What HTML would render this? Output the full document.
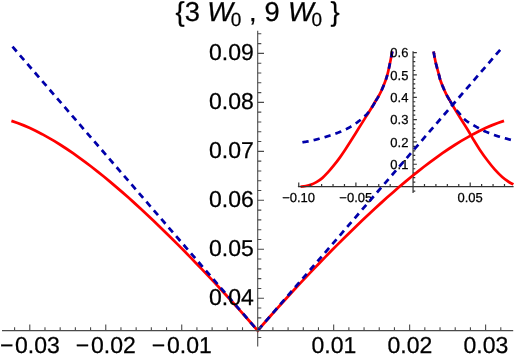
<!DOCTYPE html>
<html><head><meta charset="utf-8"><title>plot</title>
<style>
html,body{margin:0;padding:0;background:#fff;}
body{width:515px;height:359px;overflow:hidden;font-family:"Liberation Sans",sans-serif;}
svg{display:block;will-change:transform;}
text{font-family:"Liberation Sans",sans-serif;fill:#000;stroke:#000;stroke-width:0.25px;text-rendering:geometricPrecision;}
</style></head><body>
<svg width="515" height="359" viewBox="0 0 515 359">
<rect width="515" height="359" fill="#fff"/>
<g fill="none" stroke-width="2.7">
<path d="M300.60 186.70 C300.92 186.67 301.68 186.62 302.50 186.50 C303.32 186.38 304.17 186.27 305.50 186.00 C306.83 185.73 308.68 185.53 310.50 184.90 C312.32 184.27 314.45 183.33 316.40 182.20 C318.35 181.07 320.25 179.77 322.20 178.10 C324.15 176.43 326.13 174.35 328.10 172.20 C330.07 170.05 332.05 167.63 334.00 165.20 C335.95 162.77 337.97 160.13 339.80 157.60 C341.63 155.07 343.20 152.72 345.00 150.00 C346.80 147.28 348.37 144.83 350.60 141.30 C352.83 137.77 355.80 132.95 358.40 128.80 C361.00 124.65 364.00 119.90 366.20 116.40 C368.40 112.90 370.00 110.40 371.60 107.80 C373.20 105.20 374.25 103.47 375.80 100.80 C377.35 98.13 379.00 96.03 380.90 91.80 C382.80 87.57 385.30 82.13 387.20 75.40 C389.10 68.67 391.45 55.40 392.30 51.40" stroke="#ff0000"/>
<path d="M433.60 51.50 C433.93 53.27 434.75 58.38 435.60 62.10 C436.45 65.82 437.92 70.82 438.70 73.80 C439.48 76.78 439.58 77.80 440.30 80.00 C441.02 82.20 442.02 84.65 443.00 87.00 C443.98 89.35 445.08 91.88 446.20 94.10 C447.32 96.32 448.47 98.15 449.70 100.30 C450.93 102.45 451.83 104.05 453.60 107.00 C455.37 109.95 457.90 114.13 460.30 118.00 C462.70 121.87 465.77 126.53 468.00 130.20 C470.23 133.87 471.77 136.80 473.70 140.00 C475.63 143.20 477.33 146.02 479.60 149.40 C481.87 152.78 484.75 156.92 487.30 160.30 C489.85 163.68 492.42 166.92 494.90 169.70 C497.38 172.48 499.87 174.95 502.20 177.00 C504.53 179.05 507.03 180.77 508.90 182.00 C510.77 183.23 512.65 184.00 513.40 184.40" stroke="#ff0000"/>
<path d="M302.40 142.30 L302.51 142.28 L302.62 142.26 L302.74 142.24 L302.87 142.22 L303.00 142.20 L303.14 142.18 L303.29 142.16 L303.44 142.14 L303.60 142.11 L303.77 142.09 L303.94 142.06 L304.12 142.03 L304.30 142.01 L304.49 141.98 L304.69 141.95 L304.88 141.92 L305.09 141.89 L305.29 141.85 L305.50 141.82 L305.72 141.79 L305.94 141.75 L306.16 141.72 L306.38 141.68 L306.61 141.64 L306.84 141.60 L307.08 141.56 L307.31 141.52 L307.55 141.48 L307.79 141.44 L308.03 141.40 L308.28 141.35 L308.52 141.30 L308.77 141.26 L309.01 141.21 L309.26 141.16 L309.51 141.11 L309.76 141.06 L310.00 141.01 L310.25 140.95 L310.50 140.90 L310.75 140.84 L311.01 140.79 L311.26 140.73 L311.53 140.67 L311.80 140.60 L312.07 140.54 L312.35 140.47 L312.63 140.41 L312.91 140.34 L313.20 140.27 L313.49 140.20 L313.78 140.13 L314.08 140.05 L314.37 139.98 L314.67 139.91 L314.97 139.83 L315.28 139.75 L315.58 139.68 L315.89 139.60 L316.19 139.52 L316.50 139.44 L316.81 139.36 L317.12 139.28 L317.43 139.20 L317.73 139.12 L318.04 139.04 L318.35 138.95 L318.66 138.87 L318.96 138.79 L319.27 138.71 L319.57 138.63 L319.87 138.54 L320.17 138.46 L320.47 138.38 L320.77 138.30 L321.06 138.22 L321.35 138.14 L321.64 138.06 L321.92 137.98 L322.20 137.90 L322.48 137.82 L322.75 137.74 L323.03 137.66 L323.31 137.59 L323.58 137.51 L323.85 137.43 L324.12 137.35 L324.39 137.27 L324.66 137.19 L324.93 137.11 L325.20 137.04 L325.46 136.96 L325.73 136.88 L326.00 136.80 L326.26 136.72 L326.52 136.64 L326.79 136.56 L327.05 136.48 L327.31 136.40 L327.58 136.32 L327.84 136.24 L328.10 136.16 L328.36 136.07 L328.62 135.99 L328.88 135.91 L329.14 135.83 L329.40 135.74 L329.66 135.66 L329.92 135.57 L330.18 135.49 L330.44 135.40 L330.70 135.32 L330.96 135.23 L331.23 135.14 L331.49 135.05 L331.75 134.96 L332.01 134.87 L332.27 134.78 L332.54 134.69 L332.80 134.60 L333.06 134.51 L333.33 134.41 L333.60 134.32 L333.87 134.22 L334.14 134.13 L334.41 134.03 L334.68 133.93 L334.95 133.83 L335.22 133.73 L335.49 133.63 L335.77 133.53 L336.04 133.43 L336.31 133.33 L336.59 133.22 L336.86 133.12 L337.13 133.02 L337.40 132.91 L337.68 132.81 L337.95 132.70 L338.22 132.60 L338.49 132.49 L338.76 132.39 L339.03 132.28 L339.29 132.18 L339.56 132.07 L339.82 131.97 L340.08 131.86 L340.34 131.76 L340.60 131.65 L340.86 131.54 L341.12 131.44 L341.37 131.33 L341.62 131.23 L341.87 131.12 L342.11 131.02 L342.36 130.91 L342.60 130.81 L342.83 130.71 L343.07 130.60 L343.30 130.50 L343.53 130.40 L343.75 130.30 L343.98 130.19 L344.20 130.09 L344.42 129.99 L344.63 129.89 L344.85 129.79 L345.06 129.69 L345.27 129.59 L345.47 129.49 L345.68 129.39 L345.88 129.30 L346.08 129.20 L346.29 129.10 L346.48 129.00 L346.68 128.90 L346.88 128.80 L347.07 128.70 L347.26 128.60 L347.46 128.50 L347.65 128.40 L347.84 128.30 L348.03 128.20 L348.22 128.10 L348.40 128.00 L348.59 127.89 L348.78 127.79 L348.96 127.69 L349.15 127.59 L349.34 127.48 L349.52 127.38 L349.71 127.27 L349.89 127.17 L350.08 127.06 L350.26 126.95 L350.45 126.84 L350.64 126.73 L350.82 126.62 L351.01 126.51 L351.20 126.40 L351.39 126.29 L351.58 126.18 L351.76 126.06 L351.95 125.95 L352.13 125.84 L352.31 125.73 L352.49 125.61 L352.68 125.50 L352.86 125.39 L353.04 125.27 L353.21 125.16 L353.39 125.05 L353.57 124.93 L353.75 124.82 L353.92 124.70 L354.10 124.58 L354.28 124.47 L354.45 124.35 L354.63 124.23 L354.81 124.11 L354.98 123.99 L355.16 123.87 L355.33 123.75 L355.51 123.63 L355.69 123.50 L355.86 123.38 L356.04 123.25 L356.22 123.13 L356.40 123.00 L356.57 122.87 L356.75 122.74 L356.93 122.61 L357.11 122.47 L357.29 122.34 L357.48 122.20 L357.66 122.07 L357.84 121.93 L358.03 121.79 L358.21 121.64 L358.40 121.50 L358.59 121.35 L358.78 121.21 L358.97 121.06 L359.17 120.90 L359.36 120.75 L359.56 120.60 L359.76 120.44 L359.96 120.28 L360.16 120.12 L360.36 119.96 L360.57 119.80 L360.77 119.63 L360.98 119.47 L361.18 119.30 L361.39 119.13 L361.59 118.96 L361.80 118.79 L362.00 118.62 L362.21 118.45 L362.41 118.28 L362.62 118.11 L362.82 117.94 L363.02 117.76 L363.22 117.59 L363.42 117.41 L363.62 117.24 L363.82 117.06 L364.02 116.89 L364.21 116.71 L364.40 116.54 L364.60 116.36 L364.78 116.19 L364.97 116.01 L365.15 115.84 L365.34 115.66 L365.51 115.49 L365.69 115.32 L365.86 115.14 L366.03 114.97 L366.20 114.80 L366.36 114.63 L366.53 114.46 L366.69 114.28 L366.84 114.11 L367.00 113.94 L367.15 113.77 L367.30 113.59 L367.45 113.42 L367.60 113.25 L367.75 113.07 L367.89 112.90 L368.03 112.72 L368.18 112.55 L368.32 112.37 L368.45 112.20 L368.59 112.02 L368.73 111.85 L368.86 111.67 L368.99 111.49 L369.12 111.32 L369.26 111.14 L369.39 110.97 L369.51 110.79 L369.64 110.61 L369.77 110.44 L369.89 110.26 L370.02 110.09 L370.14 109.91 L370.27 109.73 L370.39 109.56 L370.51 109.38 L370.64 109.20 L370.76 109.03 L370.88 108.85 L371.00 108.68 L371.12 108.50 L371.24 108.33 L371.36 108.15 L371.48 107.98 L371.60 107.80 L371.72 107.63 L371.84 107.45 L371.95 107.28 L372.06 107.11 L372.18 106.94 L372.29 106.77 L372.40 106.60 L372.50 106.43 L372.61 106.26 L372.71 106.10 L372.82 105.93 L372.92 105.76 L373.02 105.60 L373.12 105.43 L373.22 105.26 L373.32 105.10 L373.42 104.93 L373.52 104.76 L373.62 104.59 L373.72 104.42 L373.82 104.26 L373.92 104.09 L374.01 103.92 L374.11 103.74 L374.21 103.57 L374.31 103.40 L374.41 103.22 L374.51 103.05 L374.61 102.87 L374.71 102.69 L374.82 102.51 L374.92 102.33 L375.03 102.14 L375.13 101.96 L375.24 101.77" stroke="#0000aa" stroke-dasharray="6.3 5.08"/>
<path d="M375.57 101.20 L375.68 101.00 L375.80 100.80 L375.92 100.60 L376.03 100.40 L376.15 100.21 L376.27 100.01 L376.39 99.82 L376.50 99.63 L376.62 99.44 L376.74 99.25 L376.86 99.06 L376.98 98.86 L377.10 98.67 L377.23 98.48 L377.35 98.29 L377.47 98.09 L377.59 97.90 L377.72 97.70 L377.84 97.50 L377.97 97.30 L378.09 97.09 L378.22 96.89 L378.35 96.68 L378.47 96.47 L378.60 96.25 L378.73 96.03 L378.86 95.80 L378.99 95.58 L379.12 95.34 L379.25 95.11 L379.39 94.86 L379.52 94.62 L379.65 94.36 L379.79 94.11 L379.92 93.84 L380.06 93.57 L380.20 93.29 L380.34 93.01 L380.48 92.72 L380.62 92.42 L380.76 92.11 L380.90 91.80 L381.04 91.48 L381.19 91.16 L381.34 90.83 L381.49 90.49 L381.64 90.16 L381.79 89.81 L381.95 89.47 L382.10 89.12 L382.26 88.76 L382.42 88.40 L382.58 88.03 L382.74 87.66 L382.90 87.29 L383.06 86.91 L383.23 86.53 L383.39 86.14 L383.56 85.74 L383.72 85.35 L383.89 84.94 L384.05 84.54 L384.21 84.13 L384.38 83.71 L384.54 83.29 L384.71 82.86 L384.87 82.43 L385.04 82.00 L385.20 81.56 L385.36 81.11 L385.52 80.66 L385.68 80.21 L385.84 79.75 L386.00 79.28 L386.15 78.82 L386.31 78.34 L386.46 77.86 L386.61 77.38 L386.76 76.89 L386.91 76.40 L387.06 75.90 L387.20 75.40 L387.34 74.88 L387.49 74.34 L387.63 73.78 L387.78 73.20 L387.93 72.60 L388.08 71.98 L388.23 71.35 L388.38 70.70 L388.53 70.04 L388.68 69.37 L388.83 68.69 L388.98 68.00 L389.13 67.31 L389.28 66.61 L389.42 65.90 L389.57 65.20 L389.72 64.49 L389.86 63.78 L390.00 63.08 L390.14 62.37 L390.28 61.68 L390.42 60.99 L390.55 60.31 L390.68 59.64 L390.81 58.98 L390.94 58.33 L391.06 57.69 L391.18 57.08 L391.30 56.47 L391.41 55.89 L391.52 55.33 L391.63 54.79 L391.73 54.27 L391.82 53.77 L391.91 53.30 L392.00 52.86 L392.08 52.45 L392.16 52.07 L392.23 51.72 L392.30 51.40" stroke="#0000aa" stroke-dasharray="6.09 6.15 6.21 5.34 5.23 6.17 5.82 5.71 30.00 30"/>
<path d="M433.60 51.50 L433.63 51.64 L433.65 51.79 L433.68 51.95 L433.71 52.13 L433.75 52.31 L433.78 52.51 L433.82 52.71 L433.85 52.92 L433.89 53.15 L433.93 53.38 L433.98 53.62 L434.02 53.87 L434.06 54.12 L434.11 54.38 L434.16 54.65 L434.20 54.92 L434.25 55.20 L434.30 55.49 L434.35 55.78 L434.41 56.07 L434.46 56.37 L434.51 56.66 L434.57 56.97 L434.62 57.27 L434.68 57.58 L434.74 57.89 L434.80 58.20 L434.86 58.51 L434.92 58.81 L434.98 59.12 L435.04 59.43 L435.10 59.74 L435.16 60.05 L435.22 60.35 L435.28 60.65 L435.35 60.95 L435.41 61.24 L435.47 61.53 L435.54 61.82 L435.60 62.10 L435.66 62.38 L435.73 62.67 L435.80 62.96 L435.87 63.25 L435.95 63.55 L436.02 63.85 L436.10 64.15 L436.17 64.46 L436.25 64.77 L436.33 65.08 L436.41 65.39 L436.50 65.70 L436.58 66.02 L436.66 66.33 L436.75 66.65 L436.83 66.96 L436.92 67.28 L437.00 67.60 L437.09 67.91 L437.18 68.22 L437.26 68.54 L437.35 68.85 L437.43 69.16 L437.52 69.46 L437.60 69.77 L437.68 70.07 L437.76 70.37 L437.85 70.66 L437.93 70.95 L438.00 71.24 L438.08 71.52 L438.16 71.79 L438.23 72.07 L438.31 72.33 L438.38 72.59 L438.45 72.85 L438.51 73.10 L438.58 73.34 L438.64 73.57 L438.70 73.80 L438.76 74.02 L438.81 74.23 L438.87 74.44 L438.92 74.64 L438.96 74.83 L439.01 75.02 L439.06 75.20 L439.10 75.38 L439.14 75.55 L439.18 75.72 L439.22 75.88 L439.26 76.04 L439.29 76.19 L439.33 76.34 L439.36 76.49 L439.40 76.64 L439.43 76.78 L439.46 76.92 L439.49 77.06 L439.53 77.19 L439.56 77.33 L439.59 77.46 L439.62 77.59 L439.65 77.73 L439.69 77.86 L439.72 77.99 L439.75 78.12 L439.79 78.25 L439.82 78.39 L439.86 78.52 L439.90 78.66 L439.93 78.80 L439.97 78.94 L440.01 79.08 L440.06 79.22 L440.10 79.37 L440.15 79.52 L440.20 79.68 L440.25 79.84 L440.30 80.00 L440.35 80.17 L440.41 80.33 L440.47 80.50 L440.52 80.67 L440.58 80.84 L440.64 81.01 L440.70 81.18 L440.76 81.35 L440.82 81.52 L440.89 81.69 L440.95 81.86 L441.01 82.04 L441.08 82.21 L441.14 82.39 L441.21 82.56 L441.28 82.74 L441.34 82.91 L441.41 83.09 L441.48 83.27 L441.55 83.44 L441.62 83.62 L441.69 83.80 L441.76 83.98 L441.83 84.15 L441.90 84.33 L441.97 84.51 L442.05 84.69 L442.12 84.87 L442.19 85.05 L442.26 85.22 L442.34 85.40 L442.41 85.58 L442.48 85.76 L442.56 85.94 L442.63 86.11 L442.70 86.29 L442.78 86.47 L442.85 86.65 L442.93 86.82 L443.00 87.00 L443.07 87.18 L443.15 87.35 L443.22 87.53 L443.30 87.71 L443.37 87.89 L443.45 88.07 L443.53 88.25 L443.60 88.43 L443.68 88.61 L443.76 88.79 L443.84 88.97 L443.91 89.15 L443.99 89.33 L444.07 89.51 L444.15 89.69 L444.23 89.88 L444.31 90.06 L444.39 90.24 L444.47 90.42 L444.55 90.60 L444.63 90.78 L444.71 90.96 L444.79 91.14 L444.87 91.32 L444.96 91.50 L445.04 91.68 L445.12 91.86 L445.20 92.03 L445.28 92.21 L445.37 92.39 L445.45 92.56 L445.53 92.74 L445.62 92.91 L445.70 93.08 L445.78 93.25 L445.87 93.43 L445.95 93.60 L446.03 93.77 L446.12 93.93 L446.20 94.10 L446.28 94.27 L446.37 94.43 L446.45 94.59 L446.54 94.76 L446.62 94.92 L446.70 95.08 L446.79 95.24 L446.87 95.40 L446.96 95.55 L447.04 95.71 L447.13 95.87 L447.22 96.02 L447.30 96.18 L447.39 96.33 L447.47 96.49 L447.56 96.64 L447.65 96.79 L447.73 96.95 L447.82 97.10 L447.91 97.25 L447.99 97.40 L448.08 97.55 L448.17 97.70 L448.26 97.86 L448.35 98.01 L448.43 98.16 L448.52 98.31 L448.61 98.46 L448.70 98.61 L448.79 98.76 L448.88 98.92 L448.97 99.07 L449.06 99.22 L449.15 99.37 L449.24 99.53 L449.33 99.68 L449.42 99.83 L449.52 99.99 L449.61 100.14 L449.70 100.30 L449.79 100.46" stroke="#0000aa" stroke-dasharray="6.3 5.08"/>
<path d="M450.07 100.93 L450.16 101.09 L450.26 101.25 L450.35 101.41 L450.45 101.57 L450.54 101.73 L450.64 101.89 L450.73 102.06 L450.82 102.22 L450.92 102.38 L451.02 102.54 L451.11 102.70 L451.21 102.87 L451.30 103.03 L451.40 103.19 L451.50 103.35 L451.59 103.51 L451.69 103.67 L451.79 103.83 L451.89 103.99 L451.98 104.15 L452.08 104.31 L452.18 104.47 L452.28 104.63 L452.38 104.79 L452.48 104.94 L452.58 105.10 L452.68 105.25 L452.78 105.41 L452.88 105.56 L452.98 105.71 L453.09 105.86 L453.19 106.01 L453.29 106.16 L453.39 106.31 L453.50 106.46 L453.60 106.60 L453.70 106.74 L453.80 106.88 L453.91 107.02 L454.00 107.15 L454.10 107.28 L454.20 107.41 L454.30 107.53 L454.40 107.66 L454.49 107.78 L454.59 107.90 L454.68 108.02 L454.78 108.14 L454.88 108.25 L454.97 108.37 L455.07 108.49 L455.17 108.60 L455.26 108.72 L455.36 108.83 L455.46 108.95 L455.56 109.06 L455.66 109.18 L455.77 109.30 L455.87 109.42 L455.98 109.54 L456.09 109.66 L456.20 109.78 L456.31 109.90 L456.42 110.03 L456.54 110.16 L456.66 110.29 L456.78 110.43 L456.90 110.57 L457.03 110.71 L457.16 110.85 L457.29 111.00 L457.42 111.15 L457.56 111.31 L457.70 111.47 L457.85 111.63 L458.00 111.80 L458.15 111.97 L458.31 112.15 L458.47 112.34 L458.63 112.53 L458.79 112.72 L458.96 112.92 L459.12 113.12 L459.29 113.33 L459.47 113.54 L459.64 113.75 L459.82 113.96 L460.00 114.18 L460.18 114.40 L460.36 114.63 L460.55 114.85 L460.74 115.08 L460.93 115.31 L461.12 115.53 L461.31 115.76 L461.51 115.99 L461.70 116.22 L461.90 116.45 L462.10 116.68 L462.30 116.91 L462.51 117.14 L462.71 117.37 L462.92 117.60 L463.12 117.82 L463.33 118.05 L463.54 118.27 L463.75 118.48 L463.97 118.70 L464.18 118.91 L464.39 119.12 L464.61 119.33 L464.83 119.53 L465.04 119.73 L465.26 119.93 L465.48 120.12 L465.70 120.30 L465.92 120.48 L466.15 120.66 L466.37 120.84 L466.60 121.01 L466.83 121.18 L467.07 121.36 L467.31 121.52 L467.55 121.69 L467.79 121.86 L468.03 122.02 L468.27 122.18 L468.52 122.34 L468.77 122.50 L469.02 122.66 L469.27 122.81 L469.52 122.97 L469.77 123.12 L470.03 123.27 L470.28 123.42 L470.54 123.57 L470.79 123.72 L471.05 123.86 L471.31 124.01 L471.56 124.15 L471.82 124.30 L472.08 124.44 L472.33 124.58 L472.59 124.73 L472.85 124.87 L473.10 125.01 L473.36 125.15 L473.61 125.29 L473.86 125.43 L474.12 125.57 L474.37 125.71 L474.62 125.85 L474.86 125.98 L475.11 126.12 L475.36 126.26 L475.60 126.40 L475.84 126.54 L476.08 126.68 L476.32 126.81 L476.55 126.95 L476.79 127.08 L477.02 127.21 L477.25 127.35 L477.49 127.48 L477.72 127.61 L477.94 127.74 L478.17 127.87 L478.40 127.99 L478.63 128.12 L478.86 128.25 L479.08 128.37 L479.31 128.50 L479.54 128.62 L479.76 128.75 L479.99 128.87 L480.22 128.99 L480.45 129.12 L480.68 129.24 L480.91 129.36 L481.14 129.48 L481.37 129.60 L481.61 129.72 L481.84 129.84 L482.08 129.96 L482.32 130.08 L482.56 130.20 L482.80 130.32 L483.05 130.44 L483.29 130.56 L483.54 130.68 L483.80 130.80 L484.05 130.92 L484.31 131.04 L484.57 131.16 L484.83 131.28 L485.10 131.40 L485.37 131.52 L485.64 131.64 L485.92 131.76 L486.20 131.88 L486.49 132.00 L486.77 132.13 L487.06 132.25 L487.36 132.37 L487.65 132.49 L487.95 132.61 L488.25 132.74 L488.55 132.86 L488.85 132.98 L489.15 133.10 L489.46 133.22 L489.77 133.34 L490.08 133.46 L490.39 133.58 L490.70 133.70 L491.01 133.82 L491.32 133.94 L491.63 134.05 L491.94 134.17 L492.25 134.29 L492.56 134.40 L492.87 134.52 L493.18 134.63 L493.49 134.74 L493.80 134.85 L494.11 134.96 L494.42 135.07 L494.72 135.18 L495.03 135.29 L495.33 135.40 L495.63 135.50 L495.93 135.60 L496.23 135.70 L496.52 135.80 L496.81 135.90 L497.10 136.00 L497.39 136.10 L497.68 136.19 L497.97 136.28 L498.27 136.38 L498.56 136.47 L498.86 136.56 L499.16 136.65 L499.46 136.74 L499.75 136.83 L500.05 136.92 L500.35 137.00 L500.65 137.09 L500.95 137.18 L501.25 137.26 L501.55 137.34 L501.85 137.42 L502.14 137.51 L502.44 137.59 L502.73 137.67 L503.02 137.74 L503.31 137.82 L503.59 137.90 L503.88 137.97 L504.16 138.05 L504.44 138.12 L504.71 138.19 L504.98 138.26 L505.25 138.33 L505.51 138.40 L505.77 138.47 L506.03 138.54 L506.28 138.61 L506.53 138.67 L506.77 138.74 L507.00 138.80 L507.24 138.86 L507.46 138.92 L507.68 138.98 L507.89 139.04 L508.10 139.10 L508.30 139.16 L508.50 139.21 L508.69 139.27 L508.88 139.32 L509.07 139.37 L509.25 139.43 L509.43 139.48 L509.61 139.53 L509.78 139.58 L509.95 139.62 L510.11 139.67 L510.28 139.71 L510.43 139.76 L510.59 139.80 L510.74 139.85 L510.88 139.89 L511.03 139.93 L511.17 139.97 L511.30 140.01 L511.44 140.04 L511.57 140.08 L511.69 140.12 L511.82 140.15 L511.94 140.18 L512.05 140.22 L512.16 140.25 L512.27 140.28 L512.38 140.31 L512.48 140.34 L512.58 140.37 L512.68 140.40 L512.77 140.42 L512.86 140.45 L512.95 140.47 L513.03 140.50 L513.11 140.52 L513.19 140.54 L513.26 140.56 L513.33 140.58 L513.40 140.60" stroke="#0000aa" stroke-dasharray="6.3 5.08"/>
</g>
<!-- inset axes -->
<g stroke="#333" stroke-width="1.2" fill="none">
<path d="M297.9 186.6 H513.6"/>
<path d="M413.05 51.3 V193"/>
<path d="M298.75 186.60 V182.40 M310.18 186.60 V184.10 M321.61 186.60 V184.10 M333.04 186.60 V184.10 M344.47 186.60 V184.10 M355.90 186.60 V182.40 M367.33 186.60 V184.10 M378.76 186.60 V184.10 M390.19 186.60 V184.10 M401.62 186.60 V184.10 M424.48 186.60 V184.10 M435.91 186.60 V184.10 M447.34 186.60 V184.10 M458.77 186.60 V184.10 M470.20 186.60 V182.40 M481.63 186.60 V184.10 M493.06 186.60 V184.10 M504.49 186.60 V184.10 M413.05 191.07 H415.25 M413.05 182.13 H415.25 M413.05 177.67 H415.25 M413.05 173.20 H415.25 M413.05 168.74 H415.25 M413.05 164.27 H416.85 M413.05 159.80 H415.25 M413.05 155.34 H415.25 M413.05 150.87 H415.25 M413.05 146.41 H415.25 M413.05 141.94 H416.85 M413.05 137.47 H415.25 M413.05 133.01 H415.25 M413.05 128.54 H415.25 M413.05 124.08 H415.25 M413.05 119.61 H416.85 M413.05 115.14 H415.25 M413.05 110.68 H415.25 M413.05 106.21 H415.25 M413.05 101.75 H415.25 M413.05 97.28 H416.85 M413.05 92.81 H415.25 M413.05 88.35 H415.25 M413.05 83.88 H415.25 M413.05 79.42 H415.25 M413.05 74.95 H416.85 M413.05 70.48 H415.25 M413.05 66.02 H415.25 M413.05 61.55 H415.25 M413.05 57.09 H415.25 M413.05 52.62 H416.85"/>
</g>
<text x="298.65" y="202.3" text-anchor="middle" font-size="13.0">−0.10</text>
<text x="355.80" y="202.3" text-anchor="middle" font-size="13.0">−0.05</text>
<text x="470.10" y="202.3" text-anchor="middle" font-size="13.0">0.05</text>
<text x="408.4" y="168.87" text-anchor="end" font-size="13.0">0.1</text>
<text x="408.4" y="146.54" text-anchor="end" font-size="13.0">0.2</text>
<text x="408.4" y="124.21" text-anchor="end" font-size="13.0">0.3</text>
<text x="408.4" y="101.88" text-anchor="end" font-size="13.0">0.4</text>
<text x="408.4" y="79.55" text-anchor="end" font-size="13.0">0.5</text>
<text x="408.4" y="57.22" text-anchor="end" font-size="13.0">0.6</text>
<!-- main curves -->
<g fill="none" stroke-width="2.75" stroke-linejoin="miter">
<path d="M11.40 120.85 L17.56 122.98 L23.71 125.39 L29.87 128.07 L36.03 131.00 L42.19 134.17 L48.34 137.57 L54.50 141.18 L60.66 144.99 L66.82 149.00 L72.97 153.19 L79.13 157.55 L85.29 162.08 L91.45 166.75 L97.60 171.58 L103.76 176.53 L109.92 181.62 L116.08 186.83 L122.23 192.16 L128.39 197.59 L134.55 203.13 L140.71 208.76 L146.86 214.49 L153.02 220.30 L159.18 226.20 L165.34 232.18 L171.50 238.24 L177.65 244.37 L183.81 250.57 L189.97 256.85 L196.12 263.20 L202.28 269.61 L208.44 276.10 L214.60 282.65 L220.75 289.28 L226.91 295.97 L233.07 302.74 L239.23 309.59 L245.38 316.51 L251.54 323.51 L257.70 330.60 L263.86 323.51 L270.01 316.51 L276.17 309.59 L282.33 302.74 L288.49 295.97 L294.64 289.28 L300.80 282.65 L306.96 276.10 L313.12 269.61 L319.28 263.20 L325.43 256.85 L331.59 250.57 L337.75 244.37 L343.91 238.24 L350.06 232.18 L356.22 226.20 L362.38 220.30 L368.54 214.49 L374.69 208.76 L380.85 203.13 L387.01 197.59 L393.17 192.16 L399.32 186.83 L405.48 181.62 L411.64 176.53 L417.80 171.58 L423.95 166.75 L430.11 162.08 L436.27 157.55 L442.43 153.19 L448.58 149.00 L454.74 144.99 L460.90 141.18 L467.06 137.57 L473.21 134.17 L479.37 131.00 L485.53 128.07 L491.69 125.39 L497.84 122.98 L504.00 120.85" stroke="#ff0000"/>
<path d="M11.40 45.38 L257.70 330.60 L503.10 46.43" stroke="#0000aa" stroke-dasharray="6.4 4.98" stroke-dashoffset="-1.7"/>
</g>
<!-- main axes -->
<g stroke="#4a4a4a" stroke-width="1.1" fill="none">
<path d="M2 330.6 H513.2"/>
<path d="M257.7 30.8 V346.6"/>
<path d="M14.60 330.60 V327.30 M29.79 330.60 V324.60 M44.98 330.60 V327.30 M60.18 330.60 V327.30 M75.37 330.60 V327.30 M90.57 330.60 V327.30 M105.76 330.60 V324.60 M120.95 330.60 V327.30 M136.15 330.60 V327.30 M151.34 330.60 V327.30 M166.54 330.60 V327.30 M181.73 330.60 V324.60 M196.92 330.60 V327.30 M212.12 330.60 V327.30 M227.31 330.60 V327.30 M242.51 330.60 V327.30 M272.89 330.60 V327.30 M288.09 330.60 V327.30 M303.28 330.60 V327.30 M318.48 330.60 V327.30 M333.67 330.60 V324.60 M348.86 330.60 V327.30 M364.06 330.60 V327.30 M379.25 330.60 V327.30 M394.45 330.60 V327.30 M409.64 330.60 V324.60 M424.83 330.60 V327.30 M440.03 330.60 V327.30 M455.22 330.60 V327.30 M470.42 330.60 V327.30 M485.61 330.60 V324.60 M500.80 330.60 V327.30 M257.70 337.43 H261.30 M257.70 327.63 H261.30 M257.70 317.84 H261.30 M257.70 308.04 H261.30 M257.70 298.25 H264.00 M257.70 288.46 H261.30 M257.70 278.66 H261.30 M257.70 268.87 H261.30 M257.70 259.07 H261.30 M257.70 249.28 H264.00 M257.70 239.49 H261.30 M257.70 229.69 H261.30 M257.70 219.90 H261.30 M257.70 210.10 H261.30 M257.70 200.31 H264.00 M257.70 190.52 H261.30 M257.70 180.72 H261.30 M257.70 170.93 H261.30 M257.70 161.13 H261.30 M257.70 151.34 H264.00 M257.70 141.55 H261.30 M257.70 131.75 H261.30 M257.70 121.96 H261.30 M257.70 112.16 H261.30 M257.70 102.37 H264.00 M257.70 92.58 H261.30 M257.70 82.78 H261.30 M257.70 72.99 H261.30 M257.70 63.19 H261.30 M257.70 53.40 H264.00 M257.70 43.61 H261.30 M257.70 33.81 H261.30"/>
</g>
<text x="-0.11" y="353.3" font-size="23">−</text>
<text x="59.79" y="353.3" text-anchor="end" font-size="23">0.03</text>
<text x="75.86" y="353.3" font-size="23">−</text>
<text x="135.76" y="353.3" text-anchor="end" font-size="23">0.02</text>
<text x="151.83" y="353.3" font-size="23">−</text>
<text x="211.73" y="353.3" text-anchor="end" font-size="23">0.01</text>
<text x="333.97" y="353.3" text-anchor="middle" font-size="23">0.01</text>
<text x="409.94" y="353.3" text-anchor="middle" font-size="23">0.02</text>
<text x="485.91" y="353.3" text-anchor="middle" font-size="23">0.03</text>
<text x="253.8" y="304.85" text-anchor="end" font-size="23">0.04</text>
<text x="253.8" y="255.88" text-anchor="end" font-size="23">0.05</text>
<text x="253.8" y="206.91" text-anchor="end" font-size="23">0.06</text>
<text x="253.8" y="157.94" text-anchor="end" font-size="23">0.07</text>
<text x="253.8" y="108.97" text-anchor="end" font-size="23">0.08</text>
<text x="253.8" y="60.00" text-anchor="end" font-size="23">0.09</text>
<!-- title -->
<g font-size="27.3" text-rendering="geometricPrecision" stroke="#000" stroke-width="0.3">
<text x="175.6" y="21">{3</text>
<text x="207.3" y="21" font-style="italic">W</text>
<text x="230.7" y="26" font-size="19">0</text>
<text x="248.9" y="21">,</text>
<text x="264.6" y="21">9</text>
<text x="288.1" y="21" font-style="italic">W</text>
<text x="311.6" y="26" font-size="19">0</text>
<text x="330.6" y="21">}</text>
</g>
</svg>
</body></html>
